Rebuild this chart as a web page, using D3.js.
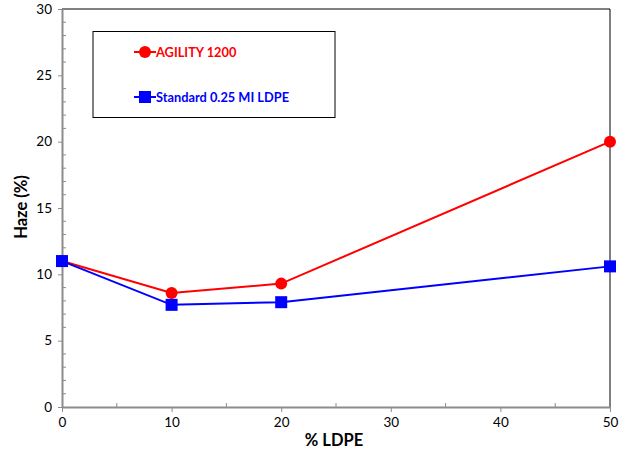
<!DOCTYPE html>
<html><head><meta charset="utf-8">
<script src="https://cdn.jsdelivr.net/npm/d3@7"></script>
<style>body{margin:0;background:#fff}svg{display:block}</style>
</head><body><svg id="c" width="627" height="454"></svg>
<script>
const xValues = [0, 10, 20, 50];
const agility = [11.0, 8.6, 9.3, 20.0];
const standard = [11.0, 7.7, 7.9, 10.6];
const seriesNames = ["AGILITY 1200", "Standard 0.25 MI LDPE"];
const xTicks = [0, 10, 20, 30, 40, 50];
const yTicks = [0, 5, 10, 15, 20, 25, 30];

const svg = d3.select("#c");
const font = "Lato, 'Open Sans', sans-serif";
const x = d3.scaleLinear().domain([0, 50]).range([62, 610]);
const y = d3.scaleLinear().domain([0, 30]).range([407, 9]);

// border (top/right)
svg.append("path").attr("d", `M${x(0)},${y(30)}H${x(50)}V${y(0)}`)
  .attr("fill", "none").attr("stroke", "#000").attr("stroke-width", 1);

// minor ticks
const gray = "#8c8c8c";
svg.append("g").selectAll("line").data(d3.range(0, 31, 1).filter(v => v % 5 !== 0)).join("line")
  .attr("x1", x(0)).attr("x2", x(0) + 4).attr("y1", d => y(d)).attr("y2", d => y(d))
  .attr("stroke", gray);
svg.append("g").selectAll("line").data(d3.range(5, 50, 10)).join("line")
  .attr("x1", d => x(d)).attr("x2", d => x(d)).attr("y1", y(0)).attr("y2", y(0) - 4)
  .attr("stroke", gray);

const yAxis = svg.append("g").attr("transform", `translate(${x(0)},0)`)
  .call(d3.axisLeft(y).tickValues(yTicks).tickSize(4).tickSizeOuter(0).tickPadding(6));
const xAxis = svg.append("g").attr("transform", `translate(0,${y(0)})`)
  .call(d3.axisBottom(x).tickValues(xTicks).tickSize(5).tickSizeOuter(0).tickPadding(5));
[xAxis, yAxis].forEach(g => {
  g.selectAll("path,line").attr("stroke", gray).attr("stroke-width", 2);
  g.selectAll("line").attr("stroke-width", 1);
  g.selectAll("text").attr("font-family", font).attr("font-size", 13.5).attr("fill", "#000");
});

const series = [
  {name: seriesNames[0], vals: agility, color: "#ff0000", shape: "circle"},
  {name: seriesNames[1], vals: standard, color: "#0000ff", shape: "square"}
];
const line = d3.line().x(d => x(d[0])).y(d => y(d[1]));
function marker(g, cx, cy, s) {
  if (s.shape === "circle") g.append("circle").attr("cx", cx).attr("cy", cy).attr("r", 6).attr("fill", s.color);
  else g.append("rect").attr("x", cx - 6).attr("y", cy - 6).attr("width", 12).attr("height", 12).attr("fill", s.color);
}
series.forEach(s => {
  const pts = xValues.map((v, i) => [v, s.vals[i]]);
  svg.append("path").attr("d", line(pts)).attr("fill", "none").attr("stroke", s.color).attr("stroke-width", 2);
  const g = svg.append("g");
  pts.forEach(p => marker(g, x(p[0]), y(p[1]), s));
});

// legend
svg.append("rect").attr("x", 93).attr("y", 31.5).attr("width", 242).attr("height", 86)
  .attr("fill", "#fff").attr("stroke", "#000").attr("stroke-width", 1);
series.forEach((s, i) => {
  const ly = 52 + i * 45;
  const g = svg.append("g");
  g.append("line").attr("x1", 134).attr("x2", 156).attr("y1", ly).attr("y2", ly).attr("stroke", s.color).attr("stroke-width", 2);
  marker(g, 145, ly, s);
  g.append("text").attr("x", 156).attr("y", ly + 4.5).text(s.name)
    .attr("font-family", font).attr("font-weight", "bold").attr("font-size", 12.8).attr("fill", s.color);
});

// axis titles
svg.append("text").attr("x", 334).attr("y", 446).attr("text-anchor", "middle")
  .attr("font-family", font).attr("font-weight", "bold").attr("font-size", 16.5).text("% LDPE");
svg.append("text").attr("transform", "translate(27,207) rotate(-90)").attr("text-anchor", "middle")
  .attr("font-family", font).attr("font-weight", "bold").attr("font-size", 16.5).text("Haze (%)");
</script></body></html>
